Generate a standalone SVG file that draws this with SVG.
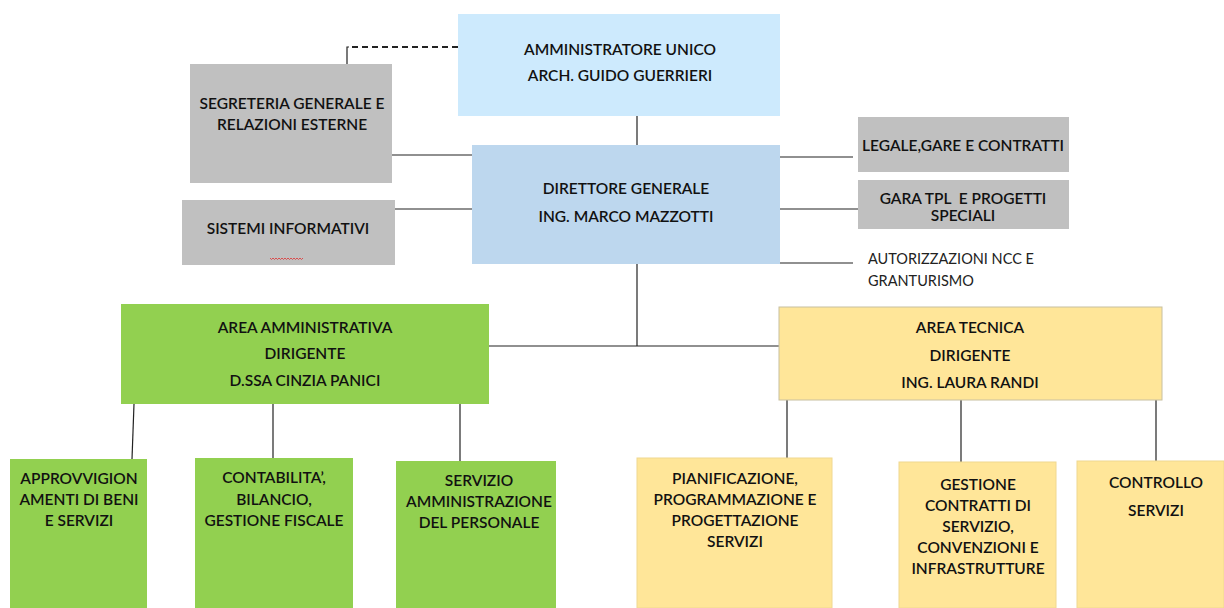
<svg xmlns="http://www.w3.org/2000/svg" width="1224" height="608" viewBox="0 0 1224 608">
<style>
.t{font-family:Lato,"Liberation Sans",sans-serif;font-weight:600;font-size:15.5px;fill:#111;text-anchor:middle;white-space:pre}
.n{font-family:Lato,"Liberation Sans",sans-serif;font-size:14.5px;fill:#222}
.gray{fill:#c0c0c0}
.green{fill:#92d050}
.yel{fill:#ffe699}
.ln{stroke:#222;stroke-width:1.2;fill:none}
.dash{stroke:#222;stroke-width:2;stroke-dasharray:6,4;fill:none}
</style>
<rect width="1224" height="608" fill="#fff"/>
<g id="connectors">
<path class="dash" d="M458 47H352"/>
<path class="ln" d="M347 64V47H349"/>
<path class="ln" d="M637 116V145"/>
<path class="ln" d="M392 155H472"/>
<path class="ln" d="M395 209H472"/>
<path class="ln" d="M780 157H853"/>
<path class="ln" d="M780 209H858"/>
<path class="ln" d="M780 263H853"/>
<path class="ln" d="M637 264V346"/>
<path class="ln" d="M489 346H780"/>
<path class="ln" d="M134 404L132 459"/>
<path class="ln" d="M273 404V458"/>
<path class="ln" d="M460 404V461"/>
<path class="ln" d="M787 400V458"/>
<path class="ln" d="M961 400V462"/>
<path class="ln" d="M1156 400V461"/>
</g>
<g id="amministratore">
<rect x="458" y="14" width="322" height="102" fill="#cdeafd"/>
<text class="t" x="620" y="55">AMMINISTRATORE UNICO</text>
<text class="t" x="620" y="81">ARCH. GUIDO GUERRIERI</text>
</g>
<g id="segreteria">
<rect class="gray" x="190" y="64" width="202" height="119"/>
<text class="t" x="292" y="109">SEGRETERIA GENERALE E</text>
<text class="t" x="292" y="130">RELAZIONI ESTERNE</text>
</g>
<g id="direttore">
<rect x="472" y="145" width="308" height="119" fill="#bdd7ee"/>
<text class="t" x="626" y="194">DIRETTORE GENERALE</text>
<text class="t" x="626" y="222">ING. MARCO MAZZOTTI</text>
</g>
<g id="sistemi">
<rect class="gray" x="182" y="200" width="213" height="65"/>
<text class="t" x="288" y="234">SISTEMI INFORMATIVI</text>
<path d="M270 258l1.5 1.5 1.5-1.5 1.5 1.5 1.5-1.5 1.5 1.5 1.5-1.5 1.5 1.5 1.5-1.5 1.5 1.5 1.5-1.5 1.5 1.5 1.5-1.5 1.5 1.5 1.5-1.5 1.5 1.5 1.5-1.5 1.5 1.5 1.5-1.5 1.5 1.5 1.5-1.5 1.5 1.5 1.5-1.5" stroke="#e03030" stroke-width="0.8" fill="none"/>
</g>
<g id="legale">
<rect class="gray" x="858" y="117" width="211" height="55"/>
<text class="t" x="963" y="151">LEGALE,GARE E CONTRATTI</text>
</g>
<g id="gara">
<rect class="gray" x="858" y="180" width="211" height="49"/>
<text class="t" x="963" y="204">GARA TPL  E PROGETTI</text>
<text class="t" x="963" y="221">SPECIALI</text>
</g>
<g id="autorizzazioni">
<text class="n" x="868" y="264">AUTORIZZAZIONI NCC E</text>
<text class="n" x="868" y="286">GRANTURISMO</text>
</g>
<g id="area-amministrativa">
<rect class="green" x="121" y="304" width="368" height="100"/>
<text class="t" x="305" y="333">AREA AMMINISTRATIVA</text>
<text class="t" x="305" y="359">DIRIGENTE</text>
<text class="t" x="305" y="386">D.SSA CINZIA PANICI</text>
</g>
<g id="area-tecnica">
<rect class="yel" x="779" y="307" width="383" height="93" stroke="#c8c0a0" stroke-width="1"/>
<text class="t" x="970" y="333">AREA TECNICA</text>
<text class="t" x="970" y="361">DIRIGENTE</text>
<text class="t" x="970" y="388">ING. LAURA RANDI</text>
</g>
<g id="approvvigionamenti">
<rect class="green" x="10" y="459" width="137" height="149"/>
<text class="t" x="79" y="484">APPROVVIGION</text>
<text class="t" x="79" y="505">AMENTI DI BENI</text>
<text class="t" x="79" y="526">E SERVIZI</text>
</g>
<g id="contabilita">
<rect class="green" x="195" y="458" width="158" height="150"/>
<text class="t" x="274" y="483">CONTABILITA’,</text>
<text class="t" x="274" y="505">BILANCIO,</text>
<text class="t" x="274" y="526">GESTIONE FISCALE</text>
</g>
<g id="personale">
<rect class="green" x="396" y="461" width="160" height="147"/>
<text class="t" x="479" y="486">SERVIZIO</text>
<text class="t" x="479" y="507">AMMINISTRAZIONE</text>
<text class="t" x="479" y="528">DEL PERSONALE</text>
</g>
<g id="pianificazione">
<rect class="yel" x="637" y="458" width="195" height="150" stroke="#f0d890" stroke-width="1"/>
<text class="t" x="735" y="484">PIANIFICAZIONE,</text>
<text class="t" x="735" y="505">PROGRAMMAZIONE E</text>
<text class="t" x="735" y="526">PROGETTAZIONE</text>
<text class="t" x="735" y="547">SERVIZI</text>
</g>
<g id="gestione-contratti">
<rect class="yel" x="899" y="462" width="157" height="146" stroke="#f0d890" stroke-width="1"/>
<text class="t" x="978" y="490">GESTIONE</text>
<text class="t" x="978" y="511">CONTRATTI DI</text>
<text class="t" x="978" y="532">SERVIZIO,</text>
<text class="t" x="978" y="553">CONVENZIONI E</text>
<text class="t" x="978" y="574">INFRASTRUTTURE</text>
</g>
<g id="controllo">
<rect class="yel" x="1077" y="461" width="147" height="147" stroke="#f0d890" stroke-width="1"/>
<text class="t" x="1156" y="488">CONTROLLO</text>
<text class="t" x="1156" y="516">SERVIZI</text>
</g>
</svg>
